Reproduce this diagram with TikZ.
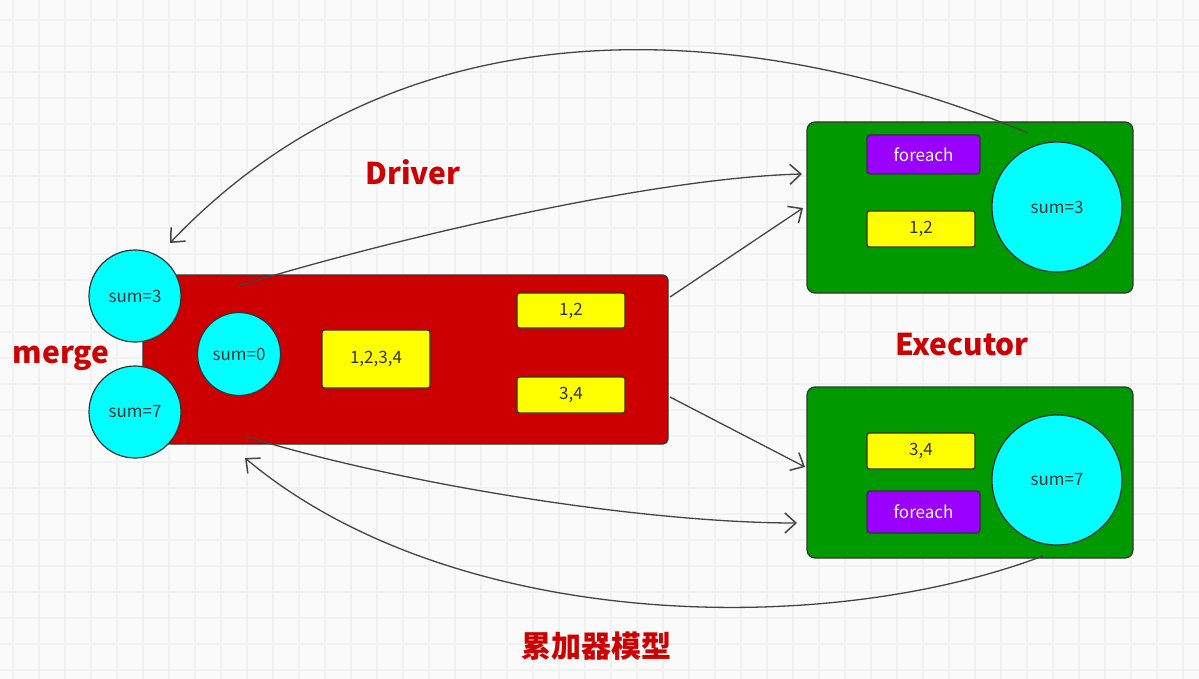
\documentclass[tikz,border=0pt]{standalone}
\usepackage{fontspec}
\setmainfont{Noto Sans CJK SC}
\usetikzlibrary{arrows.meta}
\definecolor{bg}{HTML}{FAFAFA}
\definecolor{gridc}{HTML}{F1F1F1}
\definecolor{dred}{HTML}{CC0000}
\definecolor{dgreen}{HTML}{009900}
\definecolor{cyanc}{HTML}{00FFFF}
\definecolor{yel}{HTML}{FFFF00}
\definecolor{purp}{HTML}{9900FF}
\definecolor{edge}{HTML}{333333}
\definecolor{arr}{HTML}{444444}
\tikzset{
  box/.style={draw=edge, line width=1.2pt, inner sep=0pt, font=\fontsize{17}{19}\selectfont, text=edge},
  redbox/.style={box, fill=dred, rounded corners=5pt},
  greenbox/.style={box, fill=dgreen, rounded corners=8pt},
  yelbox/.style={box, fill=yel, rounded corners=2.5pt},
  purpbox/.style={box, fill=purp, rounded corners=3pt, text=white},
  sumcirc/.style={box, circle, fill=cyanc},
  lbl/.style={text=dred, font=\fontsize{30}{34}\selectfont\bfseries},
  conn/.style={draw=arr, line width=1.3pt, -{Straight Barb[length=11pt,width=20pt,line width=1.5pt]}},
}
\begin{document}
\begin{tikzpicture}[x=1pt,y=-1pt]
\fill[bg] (0,0) rectangle (1199,679);
\useasboundingbox (0,0) rectangle (1199,679);
\foreach \i in {0,...,46} {\draw[gridc, line width=2.2pt] ({13+26*\i},0) -- ({13+26*\i},679);}
\foreach \j in {0,...,26} {\draw[gridc, line width=2.2pt] (0,{20+26*\j}) -- (1199,{20+26*\j});}

% driver
\node[redbox, minimum width=525pt, minimum height=169pt] (drv) at (405.5,359.5) {};
\node[sumcirc, minimum size=92pt] (m3) at (135,296) {sum=3};
\node[sumcirc, minimum size=92pt] (m7) at (135,412) {sum=7};
\node[sumcirc, minimum size=83pt] (s0) at (239,354) {sum=0};
\node[yelbox, minimum width=108pt, minimum height=58pt] (all) at (376,359) {1,2,3,4};
\node[yelbox, minimum width=108pt, minimum height=35pt] (p12) at (571,310.5) {1,2};
\node[yelbox, minimum width=108pt, minimum height=36pt] (p34) at (571,395) {3,4};

% executor top
\node[greenbox, minimum width=326pt, minimum height=171pt] (ex1) at (970,207.5) {};
\node[purpbox, minimum width=113pt, minimum height=39pt] (fe1) at (923.5,154.5) {foreach};
\node[yelbox, minimum width=108pt, minimum height=36pt] (e12) at (921,229) {1,2};
\node[sumcirc, minimum size=130pt] (es3) at (1057,207) {sum=3};

% executor bottom
\node[greenbox, minimum width=326pt, minimum height=171pt] (ex2) at (970,472.5) {};
\node[yelbox, minimum width=108pt, minimum height=36pt] (e34) at (921,451) {3,4};
\node[purpbox, minimum width=113pt, minimum height=42pt] (fe2) at (923.5,512) {foreach};
\node[sumcirc, minimum size=130pt] (es7) at (1057,480) {sum=7};

% labels
\node[lbl] (ldrv) at (413,172) {Driver};
\node[lbl] (lexe) at (962,345) {Executor};
\node[lbl] (lmrg) at (61,358) {merge};
\node[lbl] (ltit) at (596,646) {累加器模型};

% connector end points
\coordinate (a1s) at (1028,133);
\coordinate (a1e) at (170,243);
\coordinate (a2s) at (238,286);
\coordinate (a2e) at (802,174);
\coordinate (a3s) at (670,297);
\coordinate (a3e) at (803,208);
\coordinate (a4s) at (670,397);
\coordinate (a4e) at (805,467);
\coordinate (a5s) at (245,436);
\coordinate (a5e) at (797,523);
\coordinate (a6s) at (1043,556);
\coordinate (a6e) at (245,458);

\draw[conn] (a1s) .. controls (780,30) and (420,-20) .. (a1e);
\draw[conn] (a2s) .. controls (388,240) and (650,178) .. (a2e);
\draw[conn] (a3s) -- (a3e);
\draw[conn] (a4s) -- (a4e);
\draw[conn] (a5s) .. controls (390,482) and (640,523) .. (a5e);
\draw[conn] (a6s) .. controls (820,640) and (450,630) .. (a6e);
\end{tikzpicture}
\end{document}
